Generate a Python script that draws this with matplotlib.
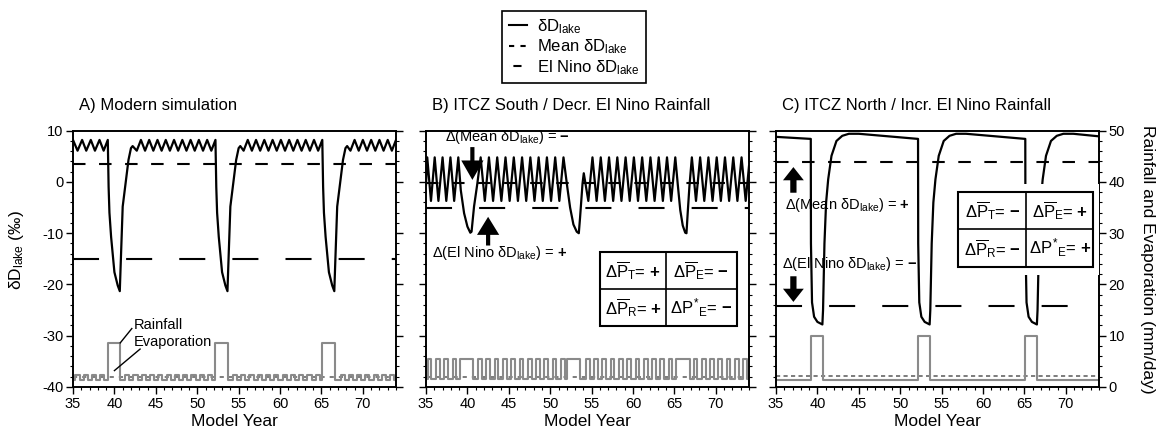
import matplotlib

matplotlib.use("Agg")
import matplotlib.pyplot as plt
import numpy as np
from matplotlib.lines import Line2D
from matplotlib.patches import Rectangle
from matplotlib.ticker import MultipleLocator

plt.rcParams["font.family"] = ["Liberation Sans", "DejaVu Sans"]
plt.rcParams["mathtext.fontset"] = "custom"
plt.rcParams["mathtext.rm"] = "Liberation Sans"
plt.rcParams["mathtext.it"] = "Liberation Sans"
plt.rcParams["mathtext.bf"] = "Liberation Sans:bold"
plt.rcParams["mathtext.sf"] = "Liberation Sans"
plt.rcParams["axes.unicode_minus"] = False

# ---- data (delta-D in permil, rainfall/evaporation in mm/day) ----
YEAR_RANGE = (35, 74)

# A) Modern simulation
a_lake_x = [
    35.0, 35.55, 36.1, 36.6, 37.15, 37.65, 38.2, 38.7, 39.2,
    39.3, 39.4, 39.6, 40.0, 40.4, 40.65, 40.75, 41.0, 41.4, 41.7, 42.0, 42.2,
    42.7, 43.2, 43.7, 44.2, 44.7, 45.2, 45.7, 46.2, 46.7, 47.2,
    47.7, 48.2, 48.7, 49.2, 49.7, 50.2, 50.7, 51.2, 51.7, 52.2,
    52.3, 52.4, 52.6, 53.0, 53.4, 53.65, 53.75, 54.0, 54.4, 54.7, 55.0, 55.2,
    55.6, 56.1, 56.6, 57.1, 57.6, 58.1, 58.6, 59.1, 59.6, 60.1,
    60.6, 61.1, 61.6, 62.1, 62.6, 63.1, 63.6, 64.1, 64.6, 65.1,
    65.2, 65.3, 65.5, 65.9, 66.3, 66.55, 66.65, 66.9, 67.3, 67.6, 67.9, 68.1,
    68.5, 69.0, 69.5, 70.0, 70.5, 71.0, 71.5, 72.0, 72.5, 73.0, 73.5, 74.0,
]
a_lake_y = [
    8.2, 6.1, 8.2, 6.1, 8.2, 6.1, 8.2, 6.1, 8.2,
    -1.0, -6.0, -10.7, -17.6, -20.2, -21.3, -16.5, -4.8, 0.4, 4.3, 6.6, 7.0,
    6.1, 8.2, 6.1, 8.2, 6.1, 8.2, 6.1, 8.2, 6.1, 8.2,
    6.1, 8.2, 6.1, 8.2, 6.1, 8.2, 6.1, 8.2, 6.1, 8.2,
    -1.0, -6.0, -10.7, -17.6, -20.2, -21.3, -16.5, -4.8, 0.4, 4.3, 6.6, 7.0,
    6.1, 8.2, 6.1, 8.2, 6.1, 8.2, 6.1, 8.2, 6.1, 8.2,
    6.1, 8.2, 6.1, 8.2, 6.1, 8.2, 6.1, 8.2, 6.1, 8.2,
    -1.0, -6.0, -10.7, -17.6, -20.2, -21.3, -16.5, -4.8, 0.4, 4.3, 6.6, 7.0,
    6.1, 8.2, 6.1, 8.2, 6.1, 8.2, 6.1, 8.2, 6.1, 8.2, 6.1, 8.2,
]
a_mean = 3.45
a_elnino = -15.0
a_rain_base = 1.4
a_rain_on = [
    35.3, 36.3, 37.3, 38.3, 39.2,
    41.3, 42.3, 43.3, 44.3, 45.3, 46.3, 47.3, 48.3, 49.3, 50.3, 51.3, 52.2,
    54.3, 55.3, 56.3, 57.3, 58.3, 59.3, 60.3, 61.3, 62.3, 63.3, 64.3, 65.1,
    67.3, 68.3, 69.3, 70.3, 71.3, 72.3, 73.3,
]
a_rain_off = [
    35.8, 36.8, 37.8, 38.8, 40.7,
    41.8, 42.8, 43.8, 44.8, 45.8, 46.8, 47.8, 48.8, 49.8, 50.8, 51.8, 53.7,
    54.8, 55.8, 56.8, 57.8, 58.8, 59.8, 60.8, 61.8, 62.8, 63.8, 64.8, 66.6,
    67.8, 68.8, 69.8, 70.8, 71.8, 72.8, 73.8,
]
a_rain_level = [
    2.4, 2.4, 2.4, 2.4, 8.6,
    2.4, 2.4, 2.4, 2.4, 2.4, 2.4, 2.4, 2.4, 2.4, 2.4, 2.4, 8.6,
    2.4, 2.4, 2.4, 2.4, 2.4, 2.4, 2.4, 2.4, 2.4, 2.4, 2.4, 8.6,
    2.4, 2.4, 2.4, 2.4, 2.4, 2.4, 2.4,
]
a_evap = 2.0

# B) ITCZ South / Decr. El Nino Rainfall
b_lake_x = [
    35.0, 35.15, 35.6, 36.05, 36.5, 37.0, 37.45, 37.95, 38.4, 38.9,
    39.2, 39.6, 40.0, 40.35, 40.5, 40.8, 41.2, 41.6,
    42.1, 42.6, 43.1, 43.6, 44.1, 44.6, 45.1, 45.6, 46.1, 46.6,
    47.1, 47.6, 48.1, 48.6, 49.1, 49.6, 50.1, 50.6, 51.1, 51.6,
    52.05, 52.4, 52.8, 53.2, 53.45, 53.6, 53.9, 54.05,
    54.6, 55.1, 55.6, 56.1, 56.6, 57.1, 57.6, 58.1, 58.6, 59.1, 59.6,
    60.1, 60.6, 61.1, 61.6, 62.1, 62.6, 63.1, 63.6, 64.1, 64.6, 65.1,
    65.4, 65.7, 66.0, 66.3, 66.45, 66.6, 66.8, 67.1,
    67.6, 68.1, 68.6, 69.1, 69.6, 70.1, 70.6, 71.1, 71.6, 72.1, 72.6, 73.1, 73.6, 74.0,
]
b_lake_y = [
    -0.5, 4.8, -3.7, 4.8, -3.7, 4.8, -3.7, 4.8, -3.7, 4.8,
    -1.6, -6.1, -8.7, -9.9, -9.7, -4.8, -0.3, 4.8,
    -3.7, 4.8, -3.7, 4.8, -3.7, 4.8, -3.7, 4.8, -3.7, 4.8,
    -3.7, 4.8, -3.7, 4.8, -3.7, 4.8, -3.7, 4.8, -3.7, 4.8,
    -0.9, -5.0, -8.3, -9.7, -10.0, -7.0, -0.3, 1.7,
    -3.7, 4.8, -3.7, 4.8, -3.7, 4.8, -3.7, 4.8, -3.7, 4.8, -3.7,
    4.8, -3.7, 4.8, -3.7, 4.8, -3.7, 4.8, -3.7, 4.8, -3.7, 4.8,
    -0.5, -5.5, -8.5, -9.9, -10.0, -6.0, -1.0, 4.8,
    -3.7, 4.8, -3.7, 4.8, -3.7, 4.8, -3.7, 4.8, -3.7, 4.8, -3.7, 4.8, -3.7, 3.1,
]
b_mean = -0.3
b_elnino = -5.1
b_rain_base = 1.5
b_rain_on = [
    35.2, 36.2, 37.2, 38.2, 39.1,
    41.3, 42.3, 43.3, 44.3, 45.3, 46.3, 47.3, 48.3, 49.3, 50.3, 51.3, 52.05,
    54.3, 55.3, 56.3, 57.3, 58.3, 59.3, 60.3, 61.3, 62.3, 63.3, 64.3, 65.2,
    67.3, 68.3, 69.3, 70.3, 71.3, 72.3, 73.3,
]
b_rain_off = [
    35.65, 36.65, 37.65, 38.65, 40.7,
    41.75, 42.75, 43.75, 44.75, 45.75, 46.75, 47.75, 48.75, 49.75, 50.75, 51.75, 53.65,
    54.75, 55.75, 56.75, 57.75, 58.75, 59.75, 60.75, 61.75, 62.75, 63.75, 64.75, 66.85,
    67.75, 68.75, 69.75, 70.75, 71.75, 72.75, 73.75,
]
b_rain_level = [
    5.5, 5.5, 5.5, 5.5, 5.5,
    5.5, 5.5, 5.5, 5.5, 5.5, 5.5, 5.5, 5.5, 5.5, 5.5, 5.5, 5.5,
    5.5, 5.5, 5.5, 5.5, 5.5, 5.5, 5.5, 5.5, 5.5, 5.5, 5.5, 5.5,
    5.5, 5.5, 5.5, 5.5, 5.5, 5.5, 5.5,
]
b_evap = 2.0

# C) ITCZ North / Incr. El Nino Rainfall
c_lake_x = [
    35.0, 39.2, 39.22, 39.35, 39.6, 40.0, 40.6, 40.68, 40.85, 41.05, 41.3, 41.7, 42.3, 43.0, 43.8, 45.0,
    52.15, 52.17, 52.3, 52.55, 52.95, 53.55, 53.63, 53.8, 54.0, 54.25, 54.65, 55.25, 55.95, 56.75, 57.95,
    65.1, 65.12, 65.25, 65.5, 65.9, 66.5, 66.58, 66.75, 66.95, 67.2, 67.6, 68.2, 68.9, 69.7, 70.9,
    74.0,
]
c_lake_y = [
    8.8, 8.4, -12.0, -23.5, -26.3, -27.3, -27.8, -25.0, -12.0, -4.0, 0.5, 5.1, 8.0, 9.0, 9.4, 9.4,
    8.4, -12.0, -23.5, -26.3, -27.3, -27.8, -25.0, -12.0, -4.0, 0.5, 5.1, 8.0, 9.0, 9.4, 9.4,
    8.4, -12.0, -23.5, -26.3, -27.3, -27.8, -25.0, -12.0, -4.0, 0.5, 5.1, 8.0, 9.0, 9.4, 9.4,
    8.9,
]
c_mean = 3.8
c_elnino = -24.2
c_elnino_end = 72.0
c_rain_base = 1.4
c_rain_on = [39.2, 52.15, 65.1]
c_rain_off = [40.65, 53.6, 66.55]
c_rain_level = [10.0, 10.0, 10.0]
c_evap = 2.1

PLUS = r"$\mathbf{+}$"
MINUS = "$\\mathbf{\u2212}$"
b_table = [[r"$\Delta\overline{P}_{T}$= " + PLUS, r"$\Delta\overline{P}_{E}$= " + MINUS],
           [r"$\Delta\overline{P}_{R}$= " + PLUS, r"$\Delta P^{*}{}_{E}$= " + MINUS]]
c_table = [[r"$\Delta\overline{P}_{T}$= " + MINUS, r"$\Delta\overline{P}_{E}$= " + PLUS],
           [r"$\Delta\overline{P}_{R}$= " + MINUS, r"$\Delta P^{*}{}_{E}$= " + PLUS]]

LAKE_SUB = r"$_{\mathrm{lake}}$"
MEAN_DASH = (6.0, 6.5)
ELNINO_DASH = (12.5, 13.0)
RAIN_COLOR = "#8a8a8a"
EVAP_COLOR = "#666666"


def step_series(x0, x1, base, on, off, level):
    xs, ys = [x0], [base]
    for t_on, t_off, lvl in zip(on, off, level):
        xs += [t_on, t_on, t_off, t_off]
        ys += [base, lvl, lvl, base]
    xs.append(x1)
    ys.append(base)
    return np.array(xs), np.array(ys)


def make_panel(fig, rect, title, right_labels=False, left_labels=True):
    ax = fig.add_axes(rect)
    tw = ax.twinx()
    ax.set_zorder(2)
    tw.set_zorder(1)
    ax.patch.set_visible(False)

    ax.set_xlim(*YEAR_RANGE)
    ax.set_ylim(-40, 10)
    tw.set_ylim(0, 50)
    ax.xaxis.set_major_locator(MultipleLocator(5))
    ax.xaxis.set_minor_locator(MultipleLocator(1))
    for a in (ax, tw):
        a.yaxis.set_major_locator(MultipleLocator(10))
        a.yaxis.set_minor_locator(MultipleLocator(2))
        a.tick_params(which="major", direction="out", length=5, width=1.0, labelsize=10.5, pad=2)
        a.tick_params(which="minor", direction="out", length=2.5, width=0.8)
        for sp in a.spines.values():
            sp.set_linewidth(1.2)
    ax.tick_params(axis="x", which="both", top=False)
    if not left_labels:
        ax.tick_params(axis="y", labelleft=False)
    if not right_labels:
        tw.tick_params(axis="y", labelright=False)
    ax.set_xlabel("Model Year", fontsize=12.5, labelpad=2)
    ax.text(0.02, 1.10, title, transform=ax.transAxes, fontsize=12, va="center", ha="left")
    return ax, tw


def draw_series(ax, tw, lake_x, lake_y, mean, elnino, rain, evap, evap_style, elnino_end=None):
    x0, x1 = YEAR_RANGE
    tw.plot([x0, x1], [evap, evap], color=EVAP_COLOR, lw=1.2, dashes=evap_style)
    rx, ry = step_series(x0, x1, *rain)
    tw.plot(rx, ry, color=RAIN_COLOR, lw=1.5)
    ax.plot([x0, x1], [mean, mean], color="black", lw=1.5, dashes=MEAN_DASH)
    ax.plot([x0, elnino_end or x1], [elnino, elnino], color="black", lw=1.5, dashes=ELNINO_DASH)
    ax.plot(lake_x, lake_y, color="black", lw=1.6, zorder=3)


def draw_table(ax, cells, x0, x1, xm, y0, y1, ym, pad=(1.0, 1.6)):
    ax.add_patch(Rectangle((x0 - pad[0], y0 - pad[1]), x1 - x0 + 2 * pad[0], y1 - y0 + 2 * pad[1],
                           facecolor="white", edgecolor="none", zorder=5))
    ax.add_patch(Rectangle((x0, y0), x1 - x0, y1 - y0, facecolor="white", edgecolor="black",
                           lw=1.5, zorder=6))
    ax.plot([xm, xm], [y0, y1], color="black", lw=1.2, zorder=7)
    ax.plot([x0, x1], [ym, ym], color="black", lw=1.2, zorder=7)
    xs = [(x0 + xm) / 2, (xm + x1) / 2]
    ys = [(ym + y1) / 2, (y0 + ym) / 2]
    for i in range(2):
        for j in range(2):
            ax.text(xs[j], ys[i], cells[i][j], ha="center", va="center", fontsize=12, zorder=8)


def arrow(ax, tail, tip, head_length, head_width, tail_width):
    ax.annotate("", xy=tip, xytext=tail, zorder=8,
                arrowprops=dict(arrowstyle=f"simple,head_length={head_length},head_width={head_width},"
                                           f"tail_width={tail_width}",
                                fc="black", ec="none", shrinkA=0, shrinkB=0, mutation_scale=10))


def main() -> None:
    fig = plt.figure(figsize=(11.62, 4.38), dpi=100)
    h = 256.3 / 438
    b = 1 - 387 / 438
    w = 323 / 1162

    ax_a, tw_a = make_panel(fig, [73 / 1162, b, w, h], "A) Modern simulation")
    ax_b, tw_b = make_panel(fig, [426 / 1162, b, w, h], "B) ITCZ South / Decr. El Nino Rainfall",
                            left_labels=False)
    ax_c, tw_c = make_panel(fig, [776 / 1162, b, w, h], "C) ITCZ North / Incr. El Nino Rainfall",
                            left_labels=False, right_labels=True)

    draw_series(ax_a, tw_a, a_lake_x, a_lake_y, a_mean, a_elnino,
                (a_rain_base, a_rain_on, a_rain_off, a_rain_level), a_evap, (2.5, 3.0))
    draw_series(ax_b, tw_b, b_lake_x, b_lake_y, b_mean, b_elnino,
                (b_rain_base, b_rain_on, b_rain_off, b_rain_level), b_evap, (2.5, 3.0))
    draw_series(ax_c, tw_c, c_lake_x, c_lake_y, c_mean, c_elnino,
                (c_rain_base, c_rain_on, c_rain_off, c_rain_level), c_evap, (2.5, 2.0),
                elnino_end=c_elnino_end)

    # panel A labels for rainfall / evaporation
    ax_a.text(42.3, -27.9, "Rainfall", fontsize=10.5, va="center", ha="left")
    ax_a.text(42.3, -31.2, "Evaporation", fontsize=10.5, va="center", ha="left")
    ax_a.plot([42.1, 40.7], [-28.6, -31.4], color="black", lw=1.0)
    ax_a.plot([43.1, 40.0], [-32.6, -36.8], color="black", lw=1.0)

    # panel B annotations
    ax_b.text(37.3, 8.8, r"$\Delta$(Mean δD" + LAKE_SUB + ") = " + MINUS, fontsize=10.5,
              va="center", ha="left")
    ax_b.text(35.7, -13.8, r"$\Delta$(El Nino δD" + LAKE_SUB + ") = " + PLUS, fontsize=10.5,
              va="center", ha="left")
    arrow(ax_b, (40.6, 6.8), (40.6, 0.4), 1.4, 1.6, 0.3)
    arrow(ax_b, (42.5, -12.4), (42.5, -6.8), 1.3, 1.6, 0.3)
    draw_table(ax_b, b_table, 56.0, 72.5, 63.95, -28.1, -13.6, -20.9, pad=(0.2, 0.3))

    # panel C annotations
    ax_c.text(36.1, -4.4, r"$\Delta$(Mean δD" + LAKE_SUB + ") = " + PLUS, fontsize=10.5,
              va="center", ha="left")
    ax_c.text(35.7, -16.1, r"$\Delta$(El Nino δD" + LAKE_SUB + ") = " + MINUS, fontsize=10.5,
              va="center", ha="left")
    arrow(ax_c, (37.1, -2.1), (37.1, 2.9), 0.95, 1.5, 0.45)
    arrow(ax_c, (37.1, -18.4), (37.1, -23.4), 0.95, 1.5, 0.45)
    draw_table(ax_c, c_table, 57.0, 73.3, 65.2, -16.56, -1.95, -9.25)

    fig.text(17 / 1162, 1 - 250 / 438, "δD" + LAKE_SUB + " (‰)", rotation=90, fontsize=12.5,
             ha="center", va="center")
    fig.text(1147 / 1162, 1 - 259 / 438, "Rainfall and Evaporation (mm/day)", rotation=-90,
             fontsize=12.5, ha="center", va="center")

    handles = [
        Line2D([], [], color="black", lw=1.5),
        Line2D([], [], color="black", lw=1.5, dashes=(2.5, 3.0)),
        Line2D([], [], color="black", lw=1.5, linestyle=(0, (0.01, 2.1, 3.9, 10))),
    ]
    labels = ["δD" + LAKE_SUB, "Mean δD" + LAKE_SUB, "El Nino δD" + LAKE_SUB]
    leg = fig.legend(handles, labels, loc="upper center", bbox_to_anchor=(574 / 1162, 0.995),
                     fontsize=12, handlelength=1.1, handletextpad=0.6, labelspacing=0.1,
                     fancybox=False, framealpha=1, borderpad=0.4)
    leg.get_frame().set_edgecolor("black")
    leg.get_frame().set_linewidth(1.2)

    fig.savefig("out.png", dpi=100, facecolor="white")
    plt.close(fig)


if __name__ == "__main__":
    main()
